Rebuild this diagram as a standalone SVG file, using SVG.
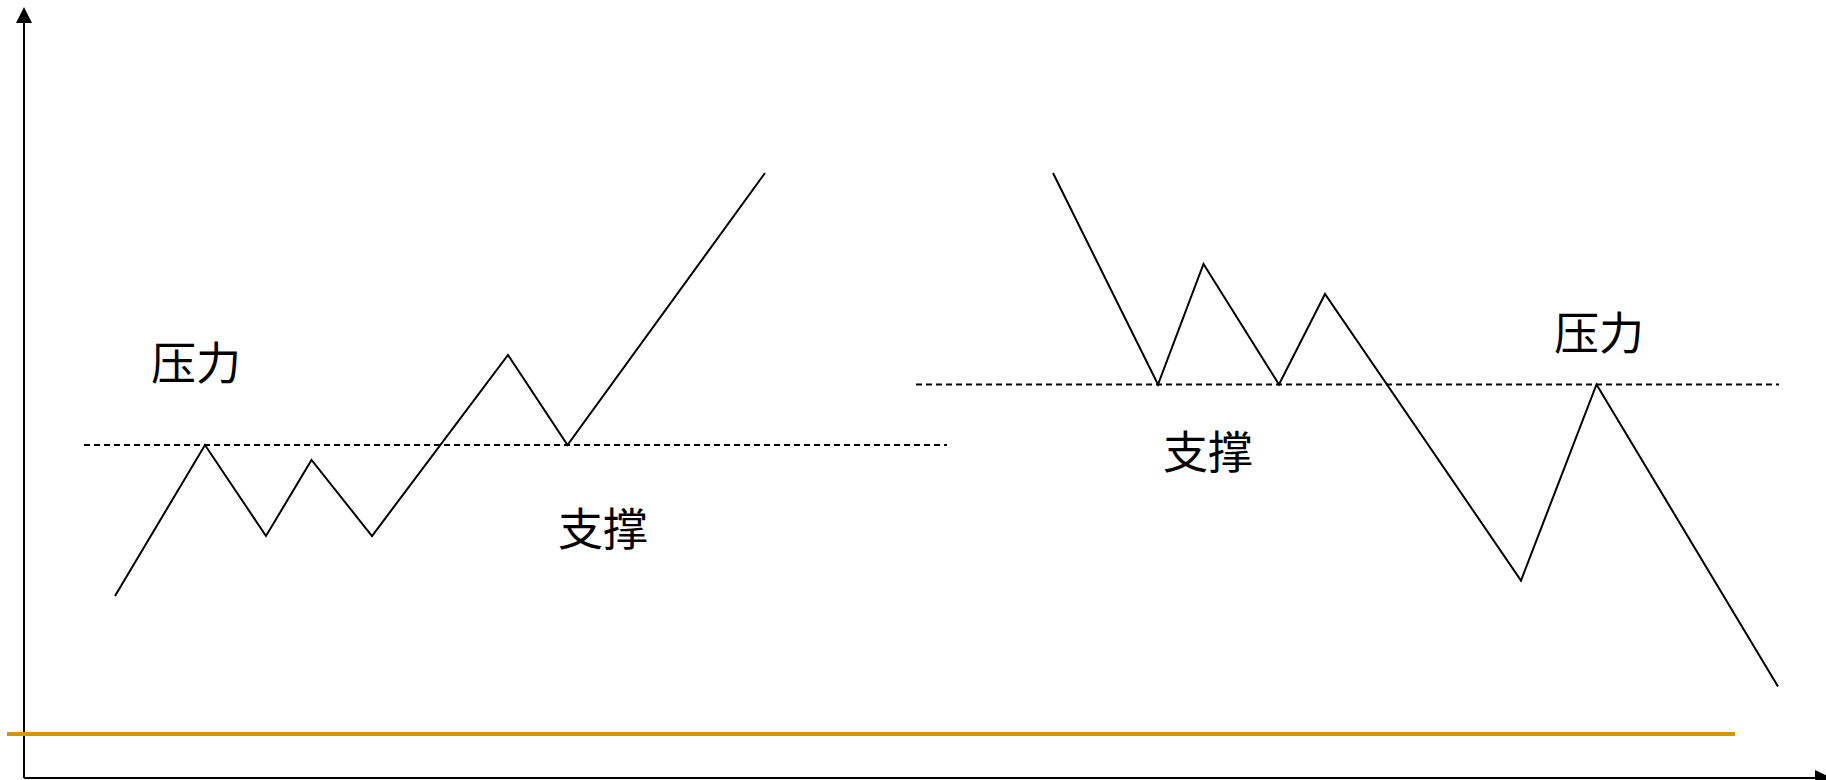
<svg xmlns="http://www.w3.org/2000/svg" width="1826" height="780" viewBox="0 0 1826 780">
<defs>
<style>
.line{fill:none;stroke:#000;stroke-width:2;stroke-linejoin:miter}
.dash{fill:none;stroke:#000;stroke-width:2;stroke-dasharray:6 4}
.axis{fill:none;stroke:#000;stroke-width:2}
.lbl{font-family:"Liberation Serif","Noto Sans CJK SC",serif;font-size:45px;fill:#000}
</style>
</defs>
<rect width="1826" height="780" fill="#fff"/>
<g id="axes">
<line class="axis" x1="24" y1="20" x2="24" y2="778"/>
<polygon points="24,7 16,23 32,23" fill="#000"/>
<line class="axis" x1="24" y1="778" x2="1818" y2="778"/>
<polygon points="1832,778 1815,770 1815,786" fill="#000"/>
</g>
<g id="baseline">
<line x1="7" y1="734" x2="1735" y2="734" stroke="#CC9900" stroke-width="4"/>
</g>
<g id="connectors">
<line class="dash" x1="84" y1="445" x2="947" y2="445"/>
<line class="dash" x1="916" y1="384.5" x2="1779" y2="384.5"/>
<polyline class="line" points="115,596 205,445 266,536 311.5,460 372,536 508,355 567.5,445 765,173"/>
<polyline class="line" points="1053,173 1158,384.5 1203.5,264 1279,384.5 1325,294 1521,580.5 1596.5,384.5 1778,686.5"/>
</g>
<g id="label-left-pressure"><text class="lbl" x="151" y="380">压力</text></g>
<g id="label-left-support"><text class="lbl" x="558" y="546">支撑</text></g>
<g id="label-right-support"><text class="lbl" x="1163" y="469">支撑</text></g>
<g id="label-right-pressure"><text class="lbl" x="1554" y="350">压力</text></g>
</svg>
